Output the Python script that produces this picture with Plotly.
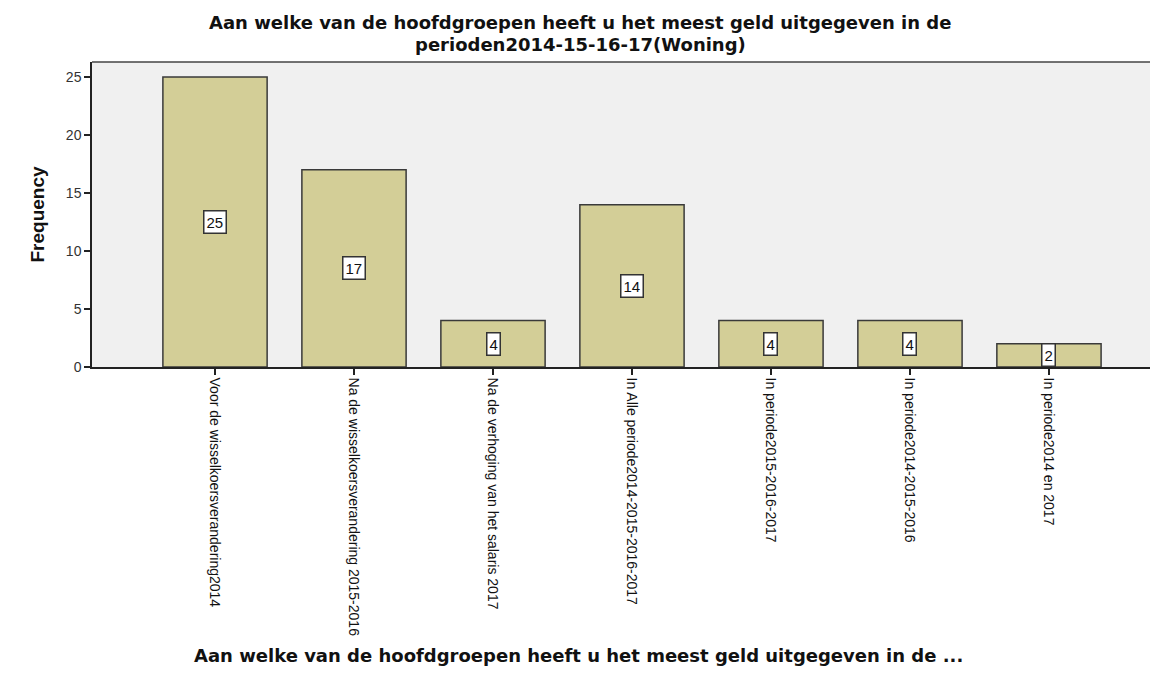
import plotly.graph_objects as go

categories = [
    "Voor de wisselkoersverandering2014",
    "Na de wisselkoersverandering 2015-2016",
    "Na de verhoging van het salaris 2017",
    "In Alle periode2014-2015-2016-2017",
    "In periode2015-2016-2017",
    "In periode2014-2015-2016",
    "In periode2014 en 2017",
]
frequencies = [25, 17, 4, 14, 4, 4, 2]
y_ticks = [0, 5, 10, 15, 20, 25]

title_lines = [
    "Aan welke van de hoofdgroepen heeft u het meest geld uitgegeven in de",
    "perioden2014-15-16-17(Woning)",
]
x_title = "Aan welke van de hoofdgroepen heeft u het meest geld uitgegeven in de ..."

W, H = 1158, 679
OFF = 8  # page offset of the figure inside the browser window
L, T, BOT = 92 - OFF, 62 - OFF, 367 - OFF  # plot area in figure coordinates

xs = list(range(len(categories)))

fig = go.Figure()
fig.add_trace(go.Bar(
    x=xs, y=frequencies, width=0.75,
    marker=dict(color="#d3ce97", line=dict(color="#3a3a3a", width=1.5)),
    hoverinfo="skip",
))

for x, v in zip(xs, frequencies):
    fig.add_annotation(
        x=x, y=v / 2, text=str(v), showarrow=False,
        font=dict(family="Liberation Sans, Arial", size=15, color="#111"),
        bgcolor="white", bordercolor="#333", borderwidth=1.5, borderpad=2,
    )

title_font = dict(family="DejaVu Sans, Liberation Sans", size=18, color="#111")
for line, ycen in zip(title_lines, [22, 44]):
    fig.add_annotation(
        xref="paper", yref="paper",
        x=(580 - OFF - L) / (W - L), y=(BOT - (ycen - OFF)) / (BOT - T),
        text="<b>" + line + "</b>", showarrow=False,
        font=title_font, xanchor="center", yanchor="middle",
    )

fig.add_annotation(
    xref="paper", yref="paper",
    x=(578 - OFF - L) / (W - L), y=(BOT - (655 - OFF)) / (BOT - T),
    text="<b>" + x_title + "</b>", showarrow=False,
    font=title_font, xanchor="center", yanchor="middle",
)

fig.update_layout(
    width=W, height=H,
    margin=dict(l=L, r=0, t=T, b=H - BOT),
    paper_bgcolor="white", plot_bgcolor="#f0f0f0",
    showlegend=False,
    xaxis=dict(
        range=[-0.885, 6.842],
        tickmode="array", tickvals=xs, ticktext=categories,
        tickangle=90, ticks="outside", ticklen=6, tickwidth=1.5, tickcolor="#222",
        showline=True, linecolor="#222", linewidth=1.5,
        showgrid=False, zeroline=False,
        tickfont=dict(family="Liberation Sans, Arial", size=14, color="#111"),
    ),
    yaxis=dict(
        range=[0, 26.3],
        tickmode="array", tickvals=y_ticks,
        ticks="outside", ticklen=6, tickwidth=1.5, tickcolor="#222",
        showline=True, linecolor="#222", linewidth=1.5,
        showgrid=False, zeroline=False,
        tickfont=dict(family="Liberation Sans, Arial", size=14, color="#333"),
        title=dict(text="<b>Frequency</b>", standoff=16,
                   font=dict(family="Liberation Sans, Arial", size=19, color="#111")),
    ),
)

fig.add_shape(type="line", xref="paper", yref="paper", x0=0, x1=1, y0=1, y1=1,
              line=dict(color="#444", width=1.5))

fig.write_html("out.html")
